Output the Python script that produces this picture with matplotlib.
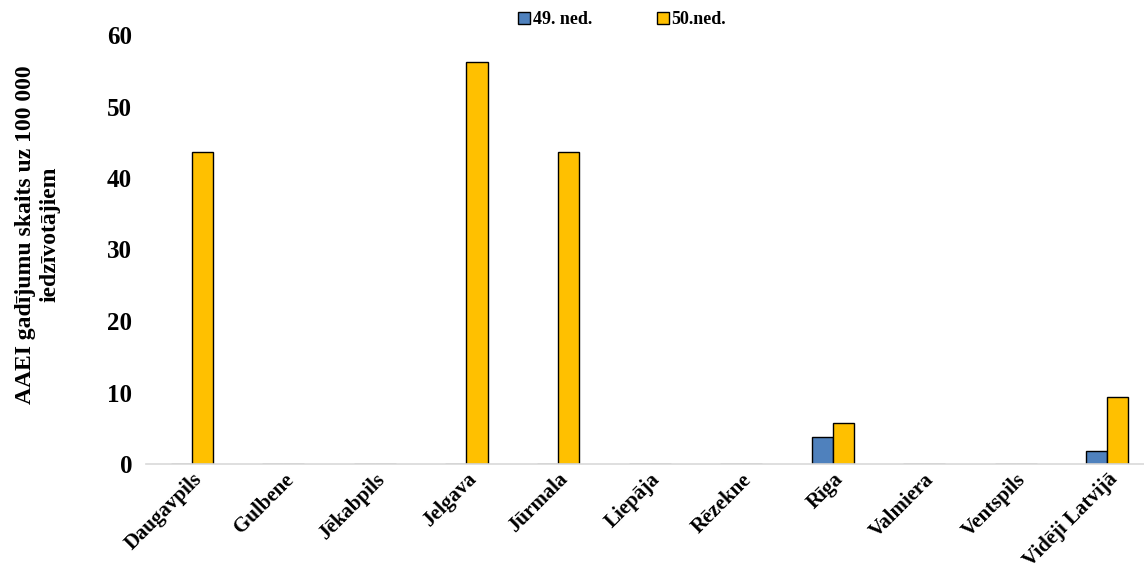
import numpy as np
import matplotlib.pyplot as plt

plt.rcParams['font.family'] = ['Liberation Serif', 'DejaVu Serif']
plt.rcParams['font.weight'] = 'bold'

pilsetas = ['Daugavpils', 'Gulbene', 'Jēkabpils', 'Jelgava', 'Jūrmala', 'Liepāja',
            'Rēzekne', 'Rīga', 'Valmiera', 'Ventspils', 'Vidēji Latvijā']
ned49 = [0, 0, 0, 0, 0, 0, 0, 3.8, 0, 0, 1.8]
ned50 = [43.6, 0, 0, 56.2, 43.6, 0, 0, 5.7, 0, 0, 9.4]
sezonas = ['49. ned.', '50.ned.']

fig = plt.figure(figsize=(11.44, 5.86), dpi=100)
ax = fig.add_axes([146/1144, 1 - 464/586, 1 - 146/1144, (464 - 35)/586])

x = np.arange(len(pilsetas))
w = 0.23
ax.bar(x - w/2, ned49, w, color='#4F81BD', edgecolor='black', linewidth=1, label=sezonas[0])
ax.bar(x + w/2, ned50, w, color='#FFC000', edgecolor='black', linewidth=1, label=sezonas[1])

ax.set_xlim(-0.5, 10.4)
ax.set_ylim(0, 60)
ax.set_yticks(np.arange(0, 61, 10))
ax.tick_params(axis='y', length=0, labelsize=18, pad=10)
ax.tick_params(axis='x', length=0, labelsize=15, pad=4)
ax.set_xticks(x)
ax.set_xticklabels(pilsetas, rotation=45, ha='right', rotation_mode='anchor', fontweight='bold')
for lbl in ax.get_yticklabels():
    lbl.set_fontweight('bold')

for s in ['top', 'right', 'left']:
    ax.spines[s].set_visible(False)
ax.spines['bottom'].set_color('#D9D9D9')
ax.spines['bottom'].set_linewidth(1.2)

ax.set_ylabel('AAEI gadījumu skaits uz 100 000\niedzīvotājiem', fontsize=17,
              fontweight='bold', linespacing=1.2)
ax.yaxis.set_label_coords(-0.086, 0.535)

fig.legend(loc='center', bbox_to_anchor=(622/1144, 1 - 20/586), ncol=2, frameon=False,
           handlelength=0.65, handleheight=0.65, handletextpad=0.15, columnspacing=3.6,
           prop={'size': 13, 'weight': 'bold'})

plt.savefig('out.png', dpi=100)
